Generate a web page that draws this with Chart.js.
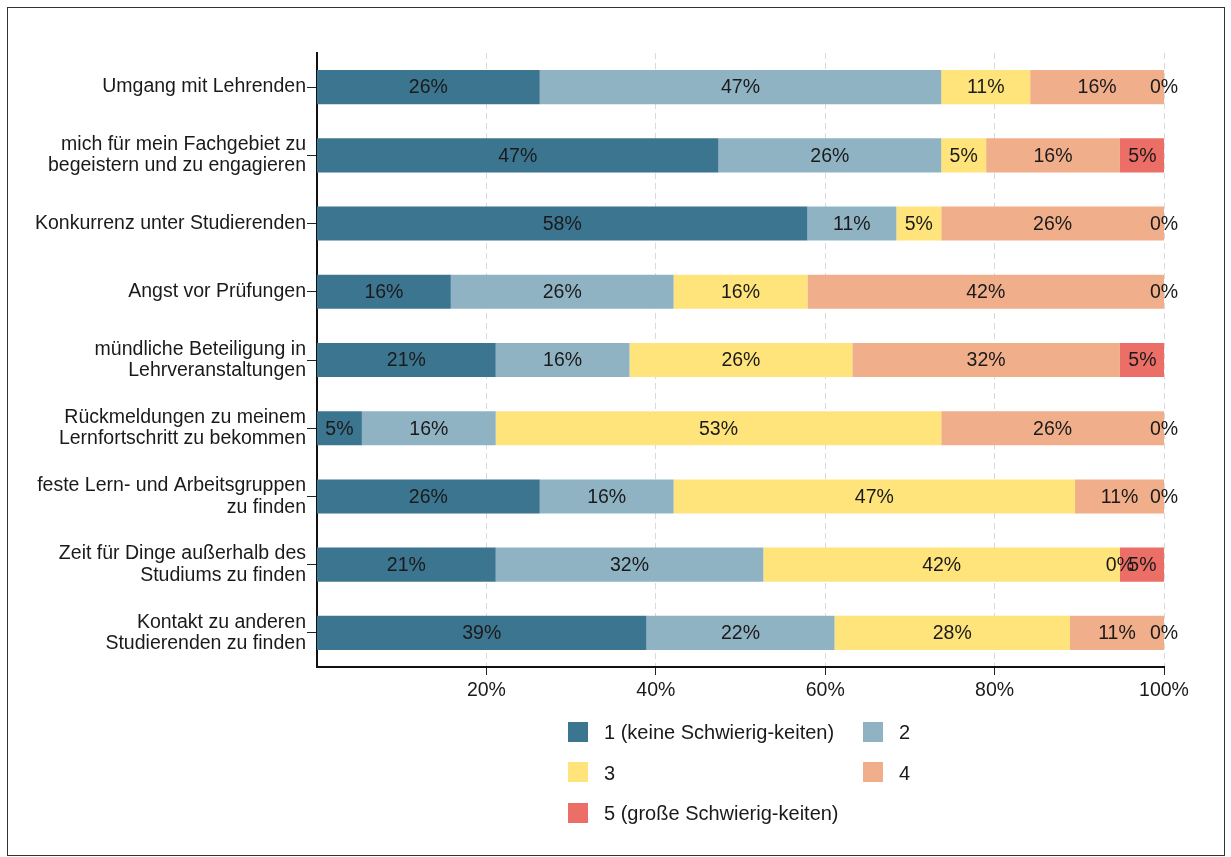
<!DOCTYPE html>
<html>
<head>
<meta charset="utf-8">
<script src="https://cdn.jsdelivr.net/npm/chart.js@4"></script>
<style>
  html, body { margin: 0; padding: 0; background: #fff; }
  body { width: 1231px; height: 857px; position: relative; overflow: hidden; font-family: "Liberation Sans", Arial, sans-serif; }
  #frame { position: absolute; left: 7px; top: 7px; width: 1216px; height: 847px; border: 1px solid #333; }
  #wrap { position: absolute; left: 0; top: 0; width: 1231px; height: 857px; }
  #legend { position: absolute; left: 568px; top: 721px; font-size: 20px; color: #1a1a1a; }
  .item { position: absolute; white-space: nowrap; height: 22px; line-height: 22px; }
  .sw { display: inline-block; width: 20px; height: 20px; vertical-align: middle; margin-right: 16px; position: relative; top: -2px; }
</style>
</head>
<body>
<div id="frame"></div>
<div id="wrap"><canvas id="chart" width="1231" height="857"></canvas></div>
<div id="legend"></div>
<script>
// categories (top to bottom)
const categories = [
  "Umgang mit Lehrenden",
  ["mich für mein Fachgebiet zu", "begeistern und zu engagieren"],
  "Konkurrenz unter Studierenden",
  "Angst vor Prüfungen",
  ["mündliche Beteiligung in", "Lehrveranstaltungen"],
  ["Rückmeldungen zu meinem", "Lernfortschritt zu bekommen"],
  ["feste Lern- und Arbeitsgruppen", "zu finden"],
  ["Zeit für Dinge außerhalb des", "Studiums zu finden"],
  ["Kontakt zu anderen", "Studierenden zu finden"]
];

// series values in percent
const level1 = [26.3, 47.4, 57.9, 15.8, 21.1, 5.3, 26.3, 21.1, 38.9];
const level2 = [47.4, 26.3, 10.5, 26.3, 15.8, 15.8, 15.8, 31.6, 22.2];
const level3 = [10.5, 5.3, 5.3, 15.8, 26.3, 52.6, 47.4, 42.1, 27.8];
const level4 = [15.8, 15.8, 26.3, 42.1, 31.6, 26.3, 10.5, 0, 11.1];
const level5 = [0, 5.3, 0, 0, 5.3, 0, 0, 5.3, 0];

const seriesNames = ["1 (keine Schwierig-keiten)", "2", "3", "4", "5 (große Schwierig-keiten)"];
const seriesColors = ["#3c758f", "#90b3c4", "#fee47a", "#f0ae8a", "#ec6f67"];
const xTicks = [20, 40, 60, 80, 100];

const seriesData = [level1, level2, level3, level4, level5];
const fontFamily = "'Liberation Sans', Arial, sans-serif";

// draw the percentage inside each bar segment (also for zero-width ones)
const barLabels = {
  id: "barLabels",
  afterDatasetsDraw(chart) {
    const ctx = chart.ctx;
    ctx.save();
    ctx.font = "19.5px " + fontFamily;
    ctx.fillStyle = "#1a1a1a";
    ctx.textAlign = "center";
    ctx.textBaseline = "middle";
    chart.data.datasets.forEach((ds, i) => {
      chart.getDatasetMeta(i).data.forEach((bar, j) => {
        const cx = (bar.x + bar.base) / 2;
        ctx.fillText(Math.round(ds.data[j]) + "%", cx, bar.y + 1);
      });
    });
    ctx.restore();
  }
};

new Chart(document.getElementById("chart").getContext("2d"), {
  type: "bar",
  data: {
    labels: categories,
    datasets: seriesData.map((d, i) => ({
      label: seriesNames[i],
      data: d,
      backgroundColor: seriesColors[i],
      borderWidth: 0,
      barPercentage: 0.5,
      categoryPercentage: 1.0
    }))
  },
  options: {
    indexAxis: "y",
    responsive: false,
    animation: false,
    layout: { padding: { left: 10, right: 67, top: 53, bottom: 150 } },
    plugins: {
      legend: { display: false },
      tooltip: { enabled: false }
    },
    scales: {
      x: {
        stacked: true,
        min: 0,
        max: 100,
        afterBuildTicks: axis => { axis.ticks = xTicks.map(v => ({ value: v })); },
        afterFit: axis => { axis.height = 40; },
        ticks: {
          callback: v => v + "%",
          color: "#1a1a1a",
          font: { size: 19.5, family: fontFamily },
          padding: 4,
          maxRotation: 0
        },
        grid: { color: "#d9d9d9", tickColor: "#222", tickLength: 8, tickBorderDash: [] },
        border: { color: "#111", width: 2, dash: [6, 4] }
      },
      y: {
        stacked: true,
        afterFit: axis => { axis.width = 307; },
        ticks: {
          color: "#1a1a1a",
          font: { size: 19.5, family: fontFamily, lineHeight: 1.1 },
          padding: 1
        },
        grid: { offset: false, drawOnChartArea: false, tickColor: "#222", tickLength: 10 },
        border: { color: "#111", width: 2 }
      }
    }
  },
  plugins: [barLabels]
});

// legend in two columns
const legend = document.getElementById("legend");
const pos = [[0, 0], [295, 0], [0, 40.5], [295, 40.5], [0, 81]];
seriesNames.forEach((name, i) => {
  const item = document.createElement("div");
  item.className = "item";
  item.style.left = pos[i][0] + "px";
  item.style.top = pos[i][1] + "px";
  item.innerHTML = '<span class="sw" style="background:' + seriesColors[i] + '"></span>' + name;
  legend.appendChild(item);
});
</script>
</body>
</html>
